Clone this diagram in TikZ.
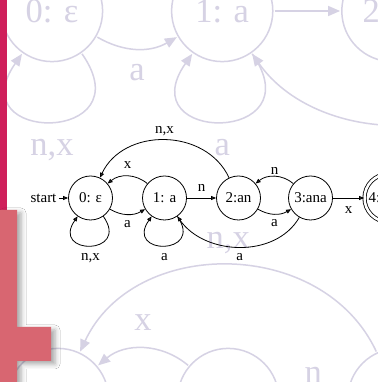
\documentclass[tikz,border=0pt]{standalone}
\usepackage{fontspec}
\setmainfont{Liberation Serif}
\usetikzlibrary{arrows.meta,shadows.blur}
\definecolor{fadeline}{RGB}{214,210,228}
\definecolor{barred}{RGB}{207,31,91}
\definecolor{blockpink}{RGB}{216,102,113}
\tikzset{
	state/.style={circle,draw,minimum size=44pt,inner sep=0pt},
	lbl/.style={inner sep=1pt},
	faded/.style={color=fadeline,line width=1.5pt,scale=2.3,transform shape,>={Triangle[length=12pt,width=10pt]}},
}
% the automaton for "anax", drawn at the origin of the current scope
\newcommand{\anaxdfa}{%
	\node[state] (q0) at (0,0) {0: ε};
	\node[state] (q1) at (74,0) {1: a};
	\node[state] (q2) at (148,0) {2:an};
	\node[state] (q3) at (220,0) {3:ana};
	\node[state,double,double distance=2.5pt,minimum size=48pt] (q4) at (298,0) {4:anax};
	\node[inner sep=2pt] (start) at (-47,0) {start};
	\draw[->] (start) -- (q0);
	\draw[->] (q0) to[bend right=30] node[lbl,below=5pt] {a} (q1);
	\draw[->] (q1) to[bend right=40] node[lbl,above=6pt] {x} (q0);
	\draw[->] (q0) to[out=-55,in=-125,distance=48pt] node[lbl,below=6pt] {n,x} (q0);
	\draw[->] (q1) to[out=-55,in=-125,distance=48pt] node[lbl,below=6pt] {a} (q1);
	\draw[->] (q1) -- node[lbl,above=5pt] {n} (q2);
	\draw[->] (q2) to[out=115,in=65,looseness=1.1] node[lbl,above=3pt] {n,x} (q0);
	\draw[->] (q2) to[bend right=30] node[lbl,below=4pt] {a} (q3);
	\draw[->] (q3) to[bend right=40] node[lbl,above=1pt] {n} (q2);
	\draw[->] (q3) to[out=-120,in=-55] node[lbl,below=5pt] {a} (q1);
	\draw[->] (q3) -- node[lbl,below=7pt] {x} (q4);
}
\begin{document}
\begin{tikzpicture}[x=1pt,y=1pt,line join=round,font=\fontsize{15}{18}\selectfont,>={Triangle[length=5pt,width=4pt]}]
	\useasboundingbox (0,0) rectangle (377,382);
	\fill[white] (0,0) rectangle (377,382);
	% faded copies behind
	\begin{scope}[shift={(52,371)},faded] \anaxdfa \end{scope}
	\begin{scope}[shift={(58,-17)},faded] \anaxdfa \end{scope}
	% bars on the left
	\fill[barred] (0,172) rectangle (7,382);
	\fill[blockpink,blur shadow={shadow xshift=4pt,shadow yshift=-3pt,shadow blur radius=5pt,shadow opacity=35}]
		(0,172)--(17,172)--(17,55)--(51,55)--(51,21)--(17,21)--(17,0)--(0,0)--cycle;
	% the automaton
	\begin{scope}[shift={(90.5,184)},line width=0.8pt] \anaxdfa \end{scope}
\end{tikzpicture}
\end{document}
